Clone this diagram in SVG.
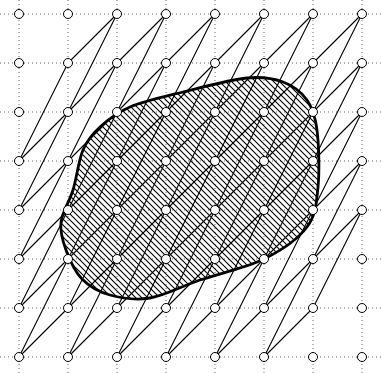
<svg xmlns="http://www.w3.org/2000/svg" width="381" height="373" viewBox="0 0 381 373">
<style>
.grid line{stroke:#666;stroke-width:1;stroke-dasharray:1 3}
.edges line{stroke:#000;stroke-width:1.1;stroke-linecap:round}
.pt{fill:#fff;stroke:#000;stroke-width:1}
.body{fill:url(#hatch);stroke:#000;stroke-width:2.8}
</style>
<defs>
<pattern id="hatch" width="6" height="6" patternUnits="userSpaceOnUse">
<path d="M-1,-1 L7,7 M-1,5 L1,7 M5,-1 L7,1" stroke="#000" stroke-width="1.1"/>
</pattern>
</defs>
<rect width="381" height="373" fill="#fff"/>
<g class="grid">
<line x1="0" y1="14" x2="381" y2="14"/><line x1="0" y1="63" x2="381" y2="63"/><line x1="0" y1="112" x2="381" y2="112"/><line x1="0" y1="161" x2="381" y2="161"/><line x1="0" y1="210" x2="381" y2="210"/><line x1="0" y1="259" x2="381" y2="259"/><line x1="0" y1="308" x2="381" y2="308"/><line x1="0" y1="357" x2="381" y2="357"/>
<line x1="19" y1="0" x2="19" y2="373"/><line x1="68" y1="0" x2="68" y2="373"/><line x1="117" y1="0" x2="117" y2="373"/><line x1="166" y1="0" x2="166" y2="373"/><line x1="215" y1="0" x2="215" y2="373"/><line x1="264" y1="0" x2="264" y2="373"/><line x1="313" y1="0" x2="313" y2="373"/><line x1="362" y1="0" x2="362" y2="373"/>
</g>
<g id="region">
<path class="body" d="M130,107 C143.83,101.17 163.5,96.83 183,92 C202.5,87.17 230.33,79.67 247,78 C263.67,76.33 273,78.33 283,82 C293,85.67 301.33,92 307,100 C312.67,108 315.17,115.5 317,130 C318.83,144.5 319.67,170.83 318,187 C316.33,203.17 316,215 307,227 C298,239 281.83,250.17 264,259 C246.17,267.83 219,273.5 200,280 C181,286.5 165,295.5 150,298 C135,300.5 121.33,298.17 110,295 C98.67,291.83 89.33,286.5 82,279 C74.67,271.5 69.5,259.5 66,250 C62.5,240.5 59.83,232 61,222 C62.17,212 69.33,202 73,190 C76.67,178 78.5,160.5 83,150 C87.5,139.5 92.17,134.17 100,127 C107.83,119.83 116.17,112.83 130,107 Z"/>
</g>
<g id="connectors" class="edges">
<line x1="68" y1="63" x2="117" y2="14"/>
<line x1="19" y1="161" x2="166" y2="14"/>
<line x1="19" y1="210" x2="215" y2="14"/>
<line x1="19" y1="259" x2="264" y2="14"/>
<line x1="19" y1="308" x2="313" y2="14"/>
<line x1="19" y1="357" x2="362" y2="14"/>
<line x1="68" y1="357" x2="362" y2="63"/>
<line x1="117" y1="357" x2="362" y2="112"/>
<line x1="166" y1="357" x2="362" y2="161"/>
<line x1="215" y1="357" x2="362" y2="210"/>
<line x1="264" y1="357" x2="313" y2="308"/>
<line x1="19" y1="161" x2="68" y2="63"/>
<line x1="19" y1="210" x2="117" y2="14"/>
<line x1="19" y1="259" x2="117" y2="63"/>
<line x1="19" y1="308" x2="166" y2="14"/>
<line x1="19" y1="357" x2="166" y2="63"/>
<line x1="68" y1="308" x2="215" y2="14"/>
<line x1="68" y1="357" x2="215" y2="63"/>
<line x1="117" y1="308" x2="264" y2="14"/>
<line x1="117" y1="357" x2="264" y2="63"/>
<line x1="166" y1="308" x2="313" y2="14"/>
<line x1="166" y1="357" x2="313" y2="63"/>
<line x1="215" y1="308" x2="362" y2="14"/>
<line x1="215" y1="357" x2="362" y2="63"/>
<line x1="264" y1="308" x2="362" y2="112"/>
<line x1="264" y1="357" x2="362" y2="161"/>
<line x1="313" y1="308" x2="362" y2="210"/>
</g>
<g id="points">
<circle class="pt" cx="19" cy="14" r="4.5"/><circle class="pt" cx="68" cy="14" r="4.5"/><circle class="pt" cx="117" cy="14" r="4.5"/><circle class="pt" cx="166" cy="14" r="4.5"/><circle class="pt" cx="215" cy="14" r="4.5"/><circle class="pt" cx="264" cy="14" r="4.5"/><circle class="pt" cx="313" cy="14" r="4.5"/><circle class="pt" cx="362" cy="14" r="4.5"/>
<circle class="pt" cx="19" cy="63" r="4.5"/><circle class="pt" cx="68" cy="63" r="4.5"/><circle class="pt" cx="117" cy="63" r="4.5"/><circle class="pt" cx="166" cy="63" r="4.5"/><circle class="pt" cx="215" cy="63" r="4.5"/><circle class="pt" cx="264" cy="63" r="4.5"/><circle class="pt" cx="313" cy="63" r="4.5"/><circle class="pt" cx="362" cy="63" r="4.5"/>
<circle class="pt" cx="19" cy="112" r="4.5"/><circle class="pt" cx="68" cy="112" r="4.5"/><circle class="pt" cx="117" cy="112" r="4.5"/><circle class="pt" cx="166" cy="112" r="4.5"/><circle class="pt" cx="215" cy="112" r="4.5"/><circle class="pt" cx="264" cy="112" r="4.5"/><circle class="pt" cx="313" cy="112" r="4.5"/><circle class="pt" cx="362" cy="112" r="4.5"/>
<circle class="pt" cx="19" cy="161" r="4.5"/><circle class="pt" cx="68" cy="161" r="4.5"/><circle class="pt" cx="117" cy="161" r="4.5"/><circle class="pt" cx="166" cy="161" r="4.5"/><circle class="pt" cx="215" cy="161" r="4.5"/><circle class="pt" cx="264" cy="161" r="4.5"/><circle class="pt" cx="313" cy="161" r="4.5"/><circle class="pt" cx="362" cy="161" r="4.5"/>
<circle class="pt" cx="19" cy="210" r="4.5"/><circle class="pt" cx="68" cy="210" r="4.5"/><circle class="pt" cx="117" cy="210" r="4.5"/><circle class="pt" cx="166" cy="210" r="4.5"/><circle class="pt" cx="215" cy="210" r="4.5"/><circle class="pt" cx="264" cy="210" r="4.5"/><circle class="pt" cx="313" cy="210" r="4.5"/><circle class="pt" cx="362" cy="210" r="4.5"/>
<circle class="pt" cx="19" cy="259" r="4.5"/><circle class="pt" cx="68" cy="259" r="4.5"/><circle class="pt" cx="117" cy="259" r="4.5"/><circle class="pt" cx="166" cy="259" r="4.5"/><circle class="pt" cx="215" cy="259" r="4.5"/><circle class="pt" cx="264" cy="259" r="4.5"/><circle class="pt" cx="313" cy="259" r="4.5"/><circle class="pt" cx="362" cy="259" r="4.5"/>
<circle class="pt" cx="19" cy="308" r="4.5"/><circle class="pt" cx="68" cy="308" r="4.5"/><circle class="pt" cx="117" cy="308" r="4.5"/><circle class="pt" cx="166" cy="308" r="4.5"/><circle class="pt" cx="215" cy="308" r="4.5"/><circle class="pt" cx="264" cy="308" r="4.5"/><circle class="pt" cx="313" cy="308" r="4.5"/><circle class="pt" cx="362" cy="308" r="4.5"/>
<circle class="pt" cx="19" cy="357" r="4.5"/><circle class="pt" cx="68" cy="357" r="4.5"/><circle class="pt" cx="117" cy="357" r="4.5"/><circle class="pt" cx="166" cy="357" r="4.5"/><circle class="pt" cx="215" cy="357" r="4.5"/><circle class="pt" cx="264" cy="357" r="4.5"/><circle class="pt" cx="313" cy="357" r="4.5"/><circle class="pt" cx="362" cy="357" r="4.5"/>
</g>
</svg>
